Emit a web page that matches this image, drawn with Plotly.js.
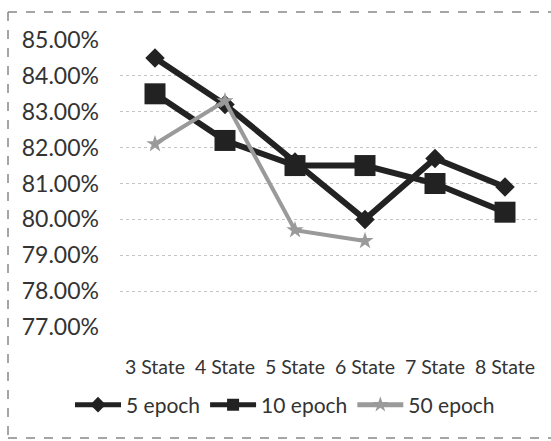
<!DOCTYPE html>
<html>
<head>
<meta charset="utf-8">
<script src="https://cdn.plot.ly/plotly-3.0.1.min.js"></script>
<style>
html,body{margin:0;padding:0;background:#fff;}
#chart{width:551px;height:441px;}
</style>
</head>
<body>
<div id="chart"></div>
<script>
var categories = ["3 State", "4 State", "5 State", "6 State", "7 State", "8 State"];
var epoch5  = [84.5, 83.2, 81.6, 80.0, 81.7, 80.9];
var epoch10 = [83.5, 82.2, 81.5, 81.5, 81.0, 80.2];
var epoch50 = [82.1, 83.3, 79.7, 79.4, null, null];
var yTicks = [77, 78, 79, 80, 81, 82, 83, 84, 85];
var yTickLabels = ["77.00%", "78.00%", "79.00%", "80.00%", "81.00%", "82.00%", "83.00%", "84.00%", "85.00%"];

var FONT = "Lato, 'Open Sans', sans-serif";
var TXT = "#333";

var traces = [
  {x: categories, y: epoch5, name: "5 epoch", type: "scatter", mode: "lines+markers",
   line: {color: "#222", width: 6}, marker: {symbol: "diamond", size: 15, color: "#222"}},
  {x: categories, y: epoch10, name: "10 epoch", type: "scatter", mode: "lines+markers",
   line: {color: "#222", width: 6}, marker: {symbol: "square", size: 21, color: "#222"}},
  {x: categories, y: epoch50, name: "50 epoch", type: "scatter", mode: "lines+markers",
   line: {color: "#9a9a9a", width: 4}, marker: {symbol: "star", size: 13, color: "#9a9a9a"}}
];

function px(x){ return (x - 120) / 420; }
function py(y){ return (327 - y) / 287; }

var layout = {
  width: 551, height: 441,
  margin: {l: 120, r: 11, t: 40, b: 114},
  paper_bgcolor: "#fff", plot_bgcolor: "#fff",
  font: {family: FONT, color: TXT, size: 20},
  showlegend: true,
  legend: {orientation: "h", x: px(70), xanchor: "left", y: py(405), yanchor: "middle",
           bgcolor: "rgba(0,0,0,0)", itemsizing: "constant",
           font: {family: FONT, size: 21, color: TXT}, itemwidth: 46, traceorder: "normal"},
  xaxis: {type: "category", showgrid: false, zeroline: false, showline: false,
          ticks: "", ticklabelstandoff: 26, tickfont: {family: FONT, size: 19.5, color: TXT},
          range: [-0.5, 5.5], fixedrange: true},
  yaxis: {range: [77, 85], tickvals: yTicks, ticktext: yTickLabels, showline: false,
          zeroline: false, showgrid: true, gridcolor: "#c4c4c4", griddash: "dot", gridwidth: 1,
          ticks: "", ticklabelstandoff: 20, tickfont: {family: FONT, size: 23, color: TXT}},
  shapes: [
    {type: "line", xref: "paper", yref: "paper", x0: px(8), x1: px(551), y0: py(12), y1: py(12),
     line: {color: "#888", width: 1.5, dash: "dash"}},
    {type: "line", xref: "paper", yref: "paper", x0: px(8), x1: px(8), y0: py(12), y1: py(438),
     line: {color: "#888", width: 1.5, dash: "dash"}},
    {type: "line", xref: "paper", yref: "paper", x0: px(8), x1: px(551), y0: py(438), y1: py(438),
     line: {color: "#888", width: 1.5, dash: "dash"}}
  ]
};

Plotly.newPlot("chart", traces, layout, {displayModeBar: false, staticPlot: true});
</script>
</body>
</html>
